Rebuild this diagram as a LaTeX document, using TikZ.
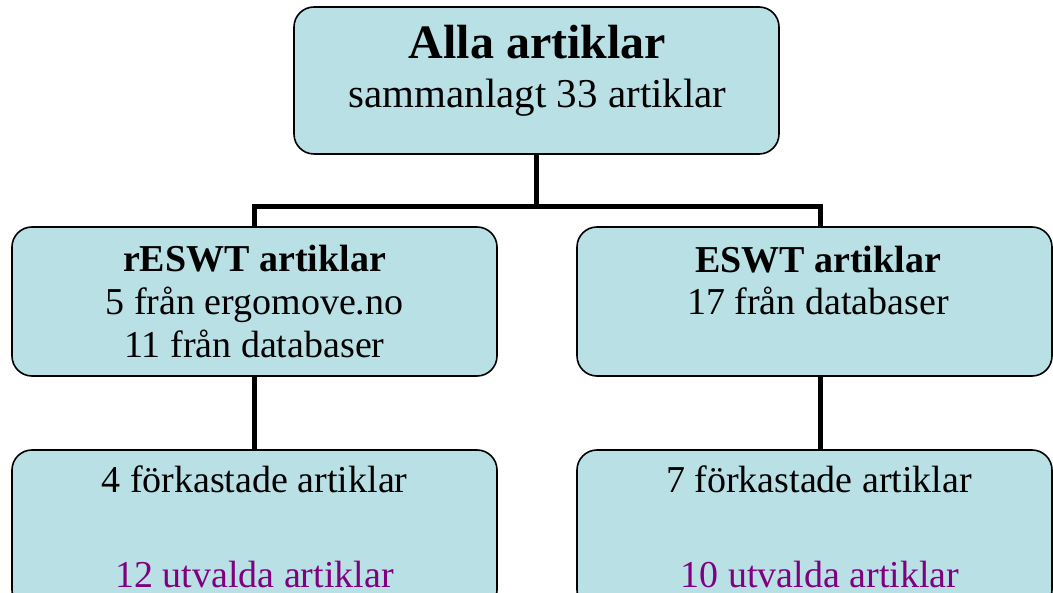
\documentclass[tikz,border=0pt]{standalone}
\usepackage{fontspec}
\setmainfont{Liberation Serif}
\definecolor{boxfill}{RGB}{185,224,228}
\definecolor{purp}{RGB}{128,0,128}
\begin{document}
\begin{tikzpicture}[x=1pt,y=-1pt,
 box/.style={draw=black,line width=1.6pt,fill=boxfill,rounded corners=20pt,minimum width=485pt,minimum height=148pt,inner sep=0pt,outer sep=0pt},
 conn/.style={line width=5pt,draw=black},
 lbl/.style={anchor=base,inner sep=0pt,font=\fontsize{38}{43}\selectfont},
 ttl/.style={anchor=base,inner sep=0pt,font=\fontsize{48}{55}\selectfont\bfseries},
 sub/.style={anchor=base,inner sep=0pt,font=\fontsize{41}{48}\selectfont}]
\useasboundingbox (0,0) rectangle (1053,593);
\clip (0,0) rectangle (1053,593);
% boxes
\node[box,minimum height=147pt] (top) at (536.5,80.5) {};
\node[box,minimum height=149pt] (l) at (254.5,301.5) {};
\node[box,minimum width=475pt,minimum height=149pt] (r) at (814.5,301.5) {};
\node[box,minimum height=160pt] (lb) at (254.5,530) {};
\node[box,minimum width=475pt,minimum height=160pt] (rb) at (814.5,530) {};
% connectors
\coordinate (jc) at (536.5,207);
\coordinate (jl) at (254.5,207);
\coordinate (jr) at (820,207);
\draw[conn] (top.south) -- (jc);
\draw[conn] (l.north) -- (jl) -- (jr) -- (r.north -| jr);
\draw[conn] (l.south) -- (lb.north);
\draw[conn] (r.south -| jr) -- (rb.north -| jr);
% texts
\node[ttl] (t1) at (537.5,59) {Alla artiklar};
\node[sub] (t2) at (537.5,108) {sammanlagt 33 artiklar};
\node[lbl,font=\fontsize{38}{43}\selectfont\bfseries] (l1) at (254.5,272) {rESWT artiklar};
\node[lbl] (l2) at (254.5,315) {5 från ergomove.no};
\node[lbl] (l3) at (254.5,358) {11 från databaser};
\node[lbl,font=\fontsize{38}{43}\selectfont\bfseries] (r1) at (818,273) {ESWT artiklar};
\node[lbl] (r2) at (818,315) {17 från databaser};
\node[lbl] (lb1) at (254.5,493) {4 förkastade artiklar};
\node[lbl,text=purp] (lb2) at (254.5,587) {12 utvalda artiklar};
\node[lbl] (rb1) at (819,493) {7 förkastade artiklar};
\node[lbl,text=purp] (rb2) at (820,587) {10 utvalda artiklar};
\end{tikzpicture}
\end{document}
